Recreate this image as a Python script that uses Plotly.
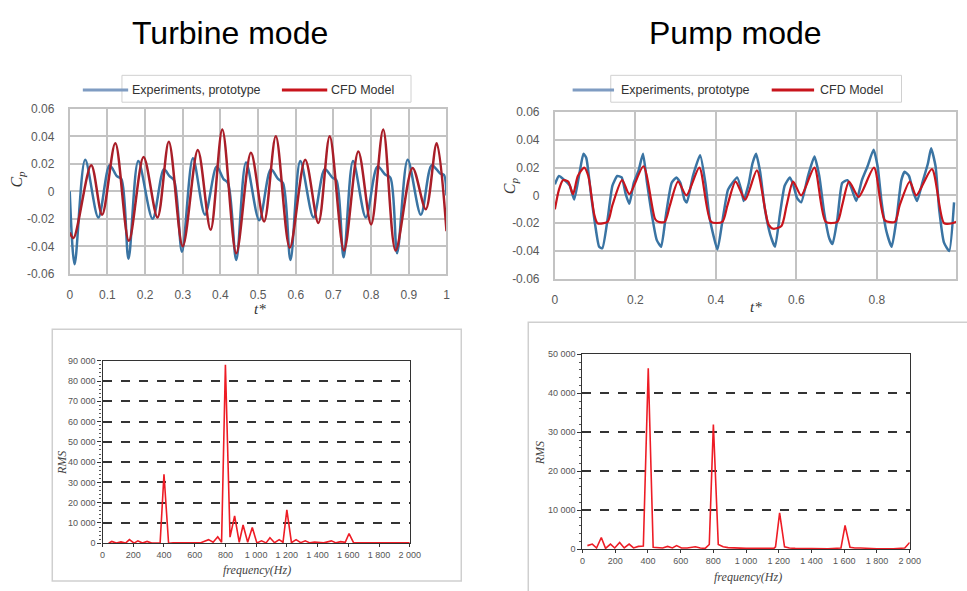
import plotly.graph_objects as go

W, H = 967, 591

# ---------------- data ----------------
# Turbine mode: pressure coefficient vs t*
turb_exp_t = [0.0, 0.013, 0.041, 0.076, 0.106, 0.125, 0.137, 0.156, 0.182, 0.22, 0.25, 0.265, 0.277, 0.298,
              0.327, 0.359, 0.39, 0.408, 0.42, 0.442, 0.468, 0.503, 0.534, 0.553, 0.566, 0.586, 0.612, 0.647,
              0.677, 0.697, 0.708, 0.727, 0.752, 0.786, 0.817, 0.838, 0.851, 0.869, 0.897, 0.932, 0.961, 0.983, 0.993, 1.0]
turb_exp_cp = [0.0, -0.053, 0.023, -0.019, 0.019, 0.011, 0.009, -0.049, 0.022, -0.020, 0.016, 0.011, 0.008, -0.044,
               0.024, -0.017, 0.018, 0.009, 0.006, -0.050, 0.021, -0.021, 0.016, 0.009, 0.006, -0.050, 0.022, -0.019,
               0.016, 0.010, 0.008, -0.048, 0.022, -0.019, 0.018, 0.012, 0.010, -0.045, 0.023, -0.017, 0.019, 0.013, 0.012, -0.003]
turb_cfd_t = [0.0, 0.01, 0.057, 0.086, 0.121, 0.157, 0.196, 0.233, 0.263, 0.3, 0.34, 0.374, 0.405, 0.442, 0.481,
              0.516, 0.547, 0.584, 0.625, 0.66, 0.69, 0.728, 0.766, 0.8, 0.832, 0.865, 0.91, 0.945, 0.974, 1.0]
turb_cfd_cp = [-0.030, -0.034, 0.019, -0.017, 0.035, -0.036, 0.025, -0.019, 0.036, -0.040, 0.030, -0.028, 0.045,
               -0.045, 0.028, -0.022, 0.040, -0.041, 0.023, -0.023, 0.040, -0.043, 0.029, -0.024, 0.045, -0.043,
               0.017, -0.013, 0.035, -0.029]

# Pump mode: pressure coefficient vs t*
pump_exp_t = [0.0, 0.01, 0.024, 0.037, 0.048, 0.061, 0.071, 0.078, 0.09, 0.1, 0.11, 0.118, 0.131, 0.143, 0.155,
              0.166, 0.176, 0.185, 0.196, 0.208, 0.219, 0.229, 0.241, 0.253, 0.264, 0.276, 0.29, 0.302, 0.312,
              0.322, 0.328, 0.343, 0.361, 0.374, 0.385, 0.404, 0.416, 0.43, 0.441, 0.453, 0.464, 0.469, 0.482,
              0.491, 0.5, 0.51, 0.522, 0.535, 0.547, 0.559, 0.571, 0.584, 0.592, 0.602, 0.612, 0.629, 0.645,
              0.657, 0.669, 0.682, 0.69, 0.702, 0.714, 0.727, 0.736, 0.749, 0.763, 0.777, 0.792, 0.802, 0.812,
              0.824, 0.837, 0.849, 0.861, 0.869, 0.88, 0.89, 0.9, 0.914, 0.927, 0.935, 0.946, 0.955, 0.967,
              0.98, 0.992]
pump_exp_cp = [0.008, 0.014, 0.011, 0.007, -0.003, 0.016, 0.030, 0.027, 0.0, -0.021, -0.037, -0.038, -0.017, 0.007,
               0.014, 0.013, 0.001, -0.006, 0.009, 0.018, 0.030, 0.009, -0.014, -0.032, -0.037, -0.014, 0.009,
               0.013, 0.009, -0.003, -0.005, 0.014, 0.029, 0.009, -0.017, -0.039, -0.019, 0.004, 0.009, 0.013,
               0.003, -0.004, 0.009, 0.023, 0.030, 0.017, -0.010, -0.028, -0.037, -0.014, 0.007, 0.013, 0.008,
               -0.002, -0.005, 0.014, 0.028, 0.014, -0.012, -0.031, -0.035, -0.017, 0.009, 0.011, 0.006, -0.004,
               0.011, 0.021, 0.033, 0.021, -0.005, -0.026, -0.037, -0.017, 0.011, 0.017, 0.014, 0.003, -0.004,
               0.010, 0.023, 0.034, 0.021, -0.010, -0.034, -0.040, -0.005]
pump_cfd_t = [0.0, 0.01, 0.02, 0.033, 0.045, 0.057, 0.073, 0.083, 0.098, 0.106, 0.131, 0.143, 0.167, 0.185, 0.22,
              0.249, 0.257, 0.273, 0.286, 0.306, 0.327, 0.359, 0.388, 0.416, 0.429, 0.449, 0.473, 0.502, 0.531,
              0.543, 0.563, 0.576, 0.592, 0.612, 0.645, 0.673, 0.702, 0.714, 0.731, 0.755, 0.793, 0.82, 0.845,
              0.857, 0.882, 0.898, 0.937, 0.967, 0.988, 0.997]
pump_cfd_cp = [-0.010, 0.004, 0.011, 0.010, 0.001, 0.014, 0.020, 0.014, -0.014, -0.020, -0.019, -0.007, 0.011,
               0.001, 0.021, -0.017, -0.019, -0.019, -0.007, 0.010, 0.0, 0.020, -0.019, -0.019, -0.007, 0.010,
               -0.003, 0.018, -0.021, -0.024, -0.022, -0.007, 0.010, 0.0, 0.020, -0.019, -0.019, -0.007, 0.010,
               -0.001, 0.020, -0.018, -0.019, -0.007, 0.010, 0.0, 0.019, -0.020, -0.020, -0.019]

# Spectra (RMS vs frequency)
turb_freq = [40, 60, 90, 120, 150, 175, 205, 230, 260, 290, 320, 350, 375, 400, 430, 460, 520, 580, 640, 690, 720,
             750, 775, 800, 830, 860, 890, 915, 945, 975, 1005, 1035, 1065, 1090, 1120, 1150, 1175, 1200, 1230,
             1260, 1290, 1320, 1350, 1380, 1440, 1490, 1520, 1550, 1580, 1605, 1635, 1700, 1760, 1830, 1900, 1960, 2000]
turb_rms = [0, 900, 100, 700, 100, 1800, 100, 1200, 100, 900, 100, 200, 300, 34000, 0, 200, 400, 300, 300, 1800,
            500, 3200, 500, 88000, 3000, 13500, 500, 9000, 500, 7800, 200, 1200, 200, 2700, 300, 1800, 500, 16500,
            300, 1800, 300, 1200, 200, 600, 200, 1200, 200, 800, 500, 4800, 200, 200, 100, 300, 100, 400, 200]
pump_freq = [30, 60, 86, 115, 141, 171, 197, 227, 255, 285, 312, 342, 372, 402, 432, 460, 490, 520, 550, 575, 605,
             640, 690, 720, 750, 775, 800, 830, 860, 890, 920, 950, 1000, 1100, 1170, 1180, 1205, 1235, 1265, 1300,
             1400, 1500, 1580, 1605, 1635, 1665, 1700, 1800, 1900, 1970, 2000]
pump_rms = [900, 1300, 300, 3000, 200, 1300, 300, 1700, 300, 1300, 300, 700, 800, 46400, 500, 400, 300, 700, 300,
            900, 300, 300, 600, 300, 200, 1200, 32000, 1200, 600, 400, 300, 200, 200, 200, 200, 600, 9300, 600, 300,
            200, 200, 100, 300, 6100, 500, 300, 300, 100, 100, 300, 1700]

cp_ticks = [-0.06, -0.04, -0.02, 0, 0.02, 0.04, 0.06]
cp_labels = ["-0.06", "-0.04", "-0.02", "0", "0.02", "0.04", "0.06"]
turb_t_ticks = [0, 0.1, 0.2, 0.3, 0.4, 0.5, 0.6, 0.7, 0.8, 0.9, 1]
turb_t_labels = ["0", "0.1", "0.2", "0.3", "0.4", "0.5", "0.6", "0.7", "0.8", "0.9", "1"]
pump_t_ticks = [0, 0.2, 0.4, 0.6, 0.8]
pump_t_labels = ["0", "0.2", "0.4", "0.6", "0.8"]
freq_ticks = [0, 200, 400, 600, 800, 1000, 1200, 1400, 1600, 1800, 2000]
freq_labels = ["0", "200", "400", "600", "800", "1 000", "1 200", "1 400", "1 600", "1 800", "2 000"]
turb_rms_ticks = [0, 10000, 20000, 30000, 40000, 50000, 60000, 70000, 80000, 90000]
turb_rms_labels = ["0", "10 000", "20 000", "30 000", "40 000", "50 000", "60 000", "70 000", "80 000", "90 000"]
pump_rms_ticks = [0, 10000, 20000, 30000, 40000, 50000]
pump_rms_labels = ["0", "10 000", "20 000", "30 000", "40 000", "50 000"]

legend_exp = "Experiments, prototype"
legend_cfd = "CFD Model"

# ---------------- helpers ----------------
def px(x):
    return x / W

def py(y):
    return 1 - y / H

BLUE = "#3a74a3"
BLUE_LEG = "#7f9cc2"
DRED = "#a91e28"
RED = "#c8141c"
SPEC = "#ee1c25"
GRID = "#c3c3c3"

fig = go.Figure()

fig.add_trace(go.Scatter(x=turb_exp_t, y=turb_exp_cp, mode="lines", line=dict(color=BLUE, width=2.5, shape="spline", smoothing=0.9),
                         xaxis="x", yaxis="y", showlegend=False))
fig.add_trace(go.Scatter(x=turb_cfd_t, y=turb_cfd_cp, mode="lines", line=dict(color=DRED, width=2.5, shape="spline", smoothing=0.9),
                         xaxis="x", yaxis="y", showlegend=False))
fig.add_trace(go.Scatter(x=pump_exp_t, y=pump_exp_cp, mode="lines", line=dict(color=BLUE, width=2.5, shape="spline", smoothing=0.5),
                         xaxis="x2", yaxis="y2", showlegend=False))
fig.add_trace(go.Scatter(x=pump_cfd_t, y=pump_cfd_cp, mode="lines", line=dict(color=RED, width=2.2, shape="spline", smoothing=0.7),
                         xaxis="x2", yaxis="y2", showlegend=False))
fig.add_trace(go.Scatter(x=turb_freq, y=turb_rms, mode="lines", line=dict(color=SPEC, width=1.6),
                         xaxis="x3", yaxis="y3", showlegend=False))
fig.add_trace(go.Scatter(x=pump_freq, y=pump_rms, mode="lines", line=dict(color=SPEC, width=1.6),
                         xaxis="x4", yaxis="y4", showlegend=False))

tick_font = dict(family="Liberation Sans, Arial, sans-serif", size=12, color="#595959")
spec_font = dict(family="Liberation Sans, Arial, sans-serif", size=9, color="#555555")

def time_x(domain, rng, tv, tt, anchor):
    return dict(domain=domain, range=rng, tickvals=tv, ticktext=tt, showgrid=True, gridcolor=GRID, gridwidth=2,
                showline=True, mirror=True, linecolor=GRID, linewidth=2, zeroline=False, ticks="outside",
                ticklen=9, tickcolor="rgba(0,0,0,0)", tickfont=tick_font, anchor=anchor, fixedrange=True)

def time_y(domain, anchor):
    return dict(domain=domain, range=[-0.06, 0.06], tickvals=cp_ticks, ticktext=cp_labels, showgrid=True,
                gridcolor=GRID, gridwidth=2, showline=True, mirror=True, linecolor=GRID, linewidth=2,
                zeroline=False, ticks="outside", ticklen=11, tickcolor="rgba(0,0,0,0)", tickfont=tick_font,
                anchor=anchor, fixedrange=True)

def spec_x(domain, anchor):
    return dict(domain=domain, range=[0, 2000], tickvals=freq_ticks, ticktext=freq_labels, showgrid=False,
                showline=True, mirror=True, linecolor="#333333", linewidth=1.3, zeroline=False, ticks="outside",
                ticklen=3, tickcolor="#333333", tickfont=spec_font, anchor=anchor, fixedrange=True)

def spec_y(domain, rng, tv, tt, anchor, minor_step):
    return dict(domain=domain, range=rng, tickvals=tv, ticktext=tt, showgrid=True, gridcolor="#333333",
                gridwidth=2, griddash="dash", showline=True, mirror=True, linecolor="#333333", linewidth=1.3,
                zeroline=False, ticks="outside", ticklen=4, tickcolor="#333333", tickfont=spec_font,
                minor=dict(dtick=minor_step, ticklen=2, tickcolor="#555555", ticks="outside", showgrid=False),
                anchor=anchor, fixedrange=True)

pump_right = 967.0
pump_xmax = (pump_right - 560) / 408.3

fig.update_layout(
    width=W, height=H, margin=dict(l=0, r=0, t=0, b=0), paper_bgcolor="white", plot_bgcolor="white",
    xaxis=time_x([px(67.7), px(450)], [0, 1], turb_t_ticks, turb_t_labels, "y"),
    yaxis=time_y([py(273.3), py(104.3)], "x"),
    xaxis2=time_x([px(560), px(pump_right)], [0, pump_xmax], pump_t_ticks, pump_t_labels, "y2"),
    yaxis2=time_y([py(278.3), py(107.7)], "x2"),
    xaxis3=spec_x([px(101), px(412.7)], "y3"),
    yaxis3=spec_y([py(549.3), py(362.3)], [0, 90000], turb_rms_ticks, turb_rms_labels, "x3", 2000),
    xaxis4=spec_x([px(588), px(920)], "y4"),
    yaxis4=spec_y([py(555.3), py(355.7)], [0, 50000], pump_rms_ticks, pump_rms_labels, "x4", 2000),
    showlegend=False,
)

shapes = []
annotations = []

def pshape(x0, y0, x1, y1, **kw):
    d = dict(xref="paper", yref="paper", x0=px(x0), y0=py(y0), x1=px(x1), y1=py(y1))
    d.update(kw)
    shapes.append(d)

def ann(x, y, text, size, color="#000000", family="Liberation Sans, Arial, sans-serif", xanchor="center",
        angle=0):
    annotations.append(dict(xref="paper", yref="paper", x=px(x), y=py(y), text=text, showarrow=False,
                            xanchor=xanchor, yanchor="middle", textangle=angle,
                            font=dict(size=size, color=color, family=family)))

# outer boxes of the spectra
pshape(50, 330, 465, 588, type="rect", line=dict(color="#cfcfcf", width=1.5))
pshape(533, 323, 990, 610, type="rect", line=dict(color="#cfcfcf", width=1.5))

# legends (drawn as shapes + text)
for (bx0, bx1, l1a, l1b, t1, l2a, l2b, t2) in [
    (120.7, 414, 81, 127, 128.5, 283, 329, 331),
    (616.7, 911.7, 578, 620, 625, 780, 823, 827),
]:
    pshape(bx0, 70, bx1, 97.5, type="rect", line=dict(color="#d0d0d0", width=1), fillcolor="white", layer="below")
    pshape(l1a, 85, l1b, 85, type="line", line=dict(color=BLUE_LEG, width=3))
    pshape(l2a, 85, l2b, 85, type="line", line=dict(color=RED, width=3))
    ann(t1, 85, legend_exp, 12.5, color="#333333", xanchor="left")
    ann(t2, 85, legend_cfd, 12.5, color="#333333", xanchor="left")

# titles
ann(230, 27, "Turbine mode", 32)
ann(743, 27, "Pump mode", 32)

# axis titles
serif = "Liberation Serif, Times New Roman, serif"
ann(15, 176, "<i>C<sub>p</sub></i>", 16, color="#333333", family=serif, angle=-90)
ann(515, 183, "<i>C<sub>p</sub></i>", 16, color="#333333", family=serif, angle=-90)
ann(261, 309, "<i>t*</i>", 15, color="#333333", family=serif)
ann(764, 307, "<i>t*</i>", 15, color="#333333", family=serif)
ann(258, 577, "<i>frequency(Hz)</i>", 12, color="#444444", family=serif)
ann(756, 584, "<i>frequency(Hz)</i>", 12, color="#444444", family=serif)
ann(60, 467, "<i>RMS</i>", 12, color="#444444", family=serif, angle=-90)
ann(545, 457, "<i>RMS</i>", 12, color="#444444", family=serif, angle=-90)

fig.update_layout(shapes=shapes, annotations=annotations)

fig.write_html("out.html", config={"displayModeBar": False},
               post_script="document.body.style.margin='0';document.body.style.overflow='hidden';")
